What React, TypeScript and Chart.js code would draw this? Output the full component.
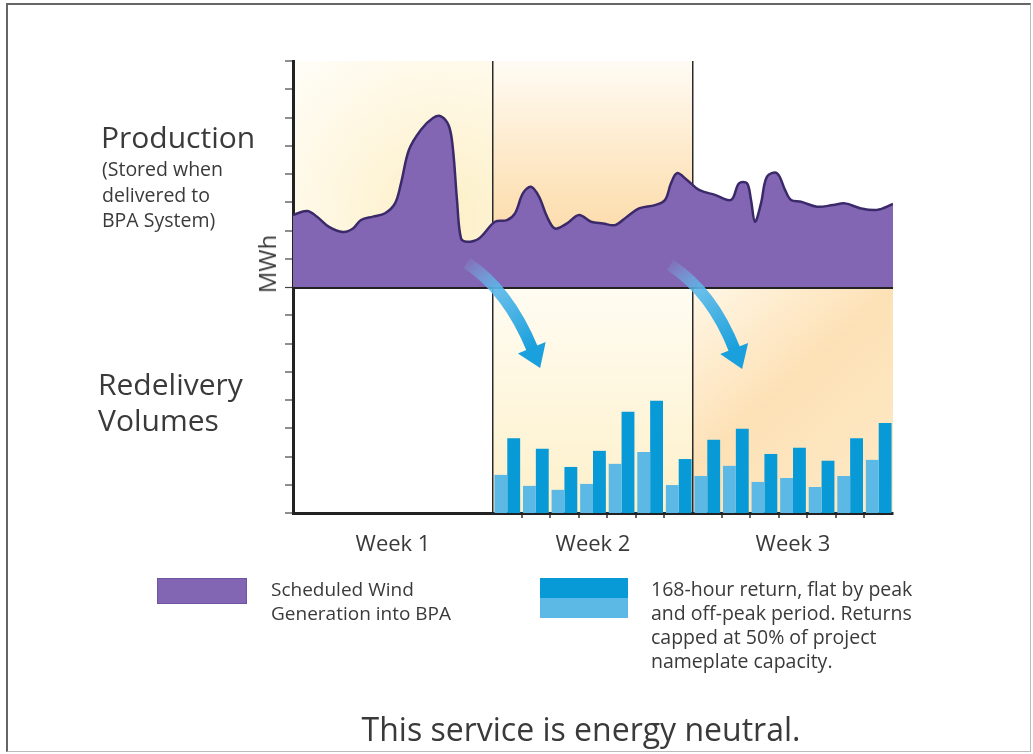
import React, { useEffect, useRef } from "react";
import { Chart, registerables } from "chart.js";

Chart.register(...registerables);

// ---- Data ----
const prodDays = [0, 0.49, 0.84, 1.26, 1.75, 2.1, 2.38, 2.8, 3.22, 3.57, 3.78, 4.06, 4.48, 4.9, 5.18, 5.46, 5.6, 5.74, 5.88, 6.09, 6.51, 7.07, 7.49, 7.77, 8.05, 8.33, 8.61, 8.89, 9.17, 9.59, 10.01, 10.43, 10.85, 11.27, 11.69, 12.11, 12.67, 13.02, 13.23, 13.44, 13.79, 14.21, 14.77, 15.33, 15.61, 15.89, 16.03, 16.17, 16.38, 16.59, 16.94, 17.22, 17.43, 17.78, 18.34, 18.9, 19.32, 19.88, 20.44, 21];
const prodMWh = [10.55, 10.69, 10.49, 10.13, 9.95, 10.07, 10.37, 10.49, 10.61, 10.96, 11.67, 12.86, 13.57, 13.98, 14.04, 13.69, 12.86, 11.08, 9.72, 9.6, 9.72, 10.31, 10.37, 10.61, 11.32, 11.55, 11.2, 10.49, 10.07, 10.25, 10.55, 10.31, 10.25, 10.19, 10.49, 10.78, 10.9, 11.08, 11.67, 12.03, 11.79, 11.44, 11.26, 11.08, 11.67, 11.67, 11.08, 10.31, 10.96, 11.91, 12.03, 11.44, 11.08, 11.02, 10.84, 10.9, 10.96, 10.78, 10.73, 10.94];

const barDays = [7.5, 8.5, 9.5, 10.5, 11.5, 12.5, 13.5, 14.5, 15.5, 16.5, 17.5, 18.5, 19.5, 20.5];
const offPeakReturn = [1.35, 0.96, 0.82, 1.03, 1.74, 2.16, 0.99, 1.31, 1.67, 1.1, 1.24, 0.92, 1.31, 1.88];
const peakReturn = [2.65, 2.27, 1.63, 2.2, 3.58, 3.97, 1.91, 2.59, 2.98, 2.09, 2.31, 1.85, 2.65, 3.19];

const weekLabels = ["Week 1", "Week 2", "Week 3"];
const weekCenters = [3.5, 10.5, 17.5];
const weekBounds = [7, 14];
const dayTicks = [7, 8, 9, 10, 11, 12, 13, 14, 15, 16, 17, 18, 19, 20];

const FONT = '"Open Sans", sans-serif';
const TEXT = "#3a3a3a";

const backgroundPlugin = {
  id: "panelBackgrounds",
  beforeDraw(chart: any) {
    const { ctx, scales } = chart;
    const x = scales.x;
    const y = scales.y;
    const x0 = x.getPixelForValue(0);
    const x7 = x.getPixelForValue(7);
    const x14 = x.getPixelForValue(14);
    const x21 = x.getPixelForValue(21);
    const yTop = y.getPixelForValue(16);
    const yMid = y.getPixelForValue(8);
    const yBot = y.getPixelForValue(0);
    ctx.save();
    let g = ctx.createRadialGradient((x0 + x7) / 2 + 50, yMid - 70, 10, (x0 + x7) / 2 + 50, yMid - 70, 210);
    g.addColorStop(0, "#fdf0c8");
    g.addColorStop(1, "#fffdf7");
    ctx.fillStyle = g;
    ctx.fillRect(x0, yTop, x7 - x0, yMid - yTop);
    g = ctx.createLinearGradient(0, yTop, 0, yMid);
    g.addColorStop(0, "#fffbf4");
    g.addColorStop(0.6, "#fde2b8");
    g.addColorStop(1, "#fbd39e");
    ctx.fillStyle = g;
    ctx.fillRect(x7, yTop, x14 - x7, yMid - yTop);
    g = ctx.createLinearGradient(0, yMid, 0, yBot);
    g.addColorStop(0, "#fffcf2");
    g.addColorStop(1, "#fdf0c9");
    ctx.fillStyle = g;
    ctx.fillRect(x7, yMid, x14 - x7, yBot - yMid);
    g = ctx.createLinearGradient(x14, yMid, x21, yBot);
    g.addColorStop(0, "#fff7e6");
    g.addColorStop(0.45, "#fde1b6");
    g.addColorStop(1, "#fdebc8");
    ctx.fillStyle = g;
    ctx.fillRect(x14, yMid, x21 - x14, yBot - yMid);
    ctx.restore();
  },
};

const arrowDefs = [
  { start: [6.09, 8.85], ctrl: [7.53, 7.89], tip: [8.65, 5.13] },
  { start: [13.2, 8.78], ctrl: [14.67, 7.82], tip: [15.72, 5.1] },
];

const arrowPlugin = {
  id: "transferArrows",
  afterDraw(chart: any) {
    const { ctx, scales } = chart;
    const px = (p: number[]) => [scales.x.getPixelForValue(p[0]), scales.y.getPixelForValue(p[1])];
    ctx.save();
    arrowDefs.forEach((a) => {
      const s = px(a.start);
      const c = px(a.ctrl);
      const t = px(a.tip);
      const dx = t[0] - c[0];
      const dy = t[1] - c[1];
      const len = Math.hypot(dx, dy);
      const ux = dx / len;
      const uy = dy / len;
      const headLen = 22;
      const half = 15;
      const b = [t[0] - ux * headLen, t[1] - uy * headLen];
      const g = ctx.createLinearGradient(s[0], s[1], b[0], b[1]);
      g.addColorStop(0, "rgba(120,190,235,0.15)");
      g.addColorStop(0.35, "rgba(90,185,235,0.9)");
      g.addColorStop(1, "#1aa0dc");
      ctx.strokeStyle = g;
      ctx.lineWidth = 12;
      ctx.lineCap = "butt";
      ctx.beginPath();
      ctx.moveTo(s[0], s[1]);
      ctx.quadraticCurveTo(c[0], c[1], b[0] + ux * 2, b[1] + uy * 2);
      ctx.stroke();
      ctx.fillStyle = "#1aa0dc";
      ctx.beginPath();
      ctx.moveTo(t[0], t[1]);
      ctx.lineTo(b[0] - uy * half, b[1] + ux * half);
      ctx.lineTo(b[0] + uy * half, b[1] - ux * half);
      ctx.closePath();
      ctx.fill();
    });
    ctx.restore();
  },
};

export default function App() {
  const ref = useRef<HTMLCanvasElement>(null);

  useEffect(() => {
    const chart = new Chart(ref.current as HTMLCanvasElement, {
      type: "bar",
      data: {
        datasets: [
          {
            type: "line",
            label: "Scheduled Wind Generation into BPA",
            data: prodDays.map((d, i) => ({ x: d, y: prodMWh[i] })),
            borderColor: "#3b2a6a",
            borderWidth: 2.5,
            backgroundColor: "#8266b4",
            fill: { value: 8 },
            pointRadius: 0,
            tension: 0.35,
            order: 2,
          } as any,
          {
            type: "bar",
            label: "Off-peak return",
            data: barDays.map((d, i) => ({ x: d, y: offPeakReturn[i] })),
            backgroundColor: "#5cb9e6",
            categoryPercentage: 0.9,
            barPercentage: 1.0,
            order: 1,
          },
          {
            type: "bar",
            label: "Peak return",
            data: barDays.map((d, i) => ({ x: d, y: peakReturn[i] })),
            backgroundColor: "#079ad6",
            categoryPercentage: 0.9,
            barPercentage: 1.0,
            order: 1,
          },
        ],
      },
      options: {
        responsive: false,
        animation: false,
        devicePixelRatio: 1,
        layout: { padding: { left: 283, top: 61, right: 140, bottom: 0 } },
        plugins: { legend: { display: false }, tooltip: { enabled: false } },
        scales: {
          x: {
            type: "linear",
            position: "bottom",
            weight: 0,
            min: 0,
            max: 21,
            offset: false,
            z: 1,
            afterFit: (s: any) => {
              s.height = 6;
            },
            afterBuildTicks: (s: any) => {
              s.ticks = dayTicks.map((v) => ({ value: v }));
            },
            ticks: { display: false, autoSkip: false },
            grid: {
              offset: false,
              drawOnChartArea: true,
              drawTicks: true,
              tickLength: 5,
              color: (c: any) => (weekBounds.includes(c.tick?.value) ? "#2a2a2a" : "rgba(0,0,0,0)"),
              lineWidth: (c: any) => (weekBounds.includes(c.tick?.value) ? 1.5 : 0),
              tickColor: (c: any) => (weekBounds.includes(c.tick?.value) ? "rgba(0,0,0,0)" : "#333"),
              tickWidth: 1.5,
            },
            border: { display: true, color: "#222", width: 3 },
          },
          weeks: {
            type: "linear",
            position: "bottom",
            weight: 1,
            min: 0,
            max: 21,
            offset: false,
            afterFit: (s: any) => {
              s.height = 235;
            },
            afterBuildTicks: (s: any) => {
              s.ticks = weekCenters.map((v) => ({ value: v }));
            },
            ticks: {
              autoSkip: false,
              maxRotation: 0,
              padding: 13,
              color: TEXT,
              font: { family: FONT, size: 22 },
              callback: (v: any) => {
                const i = weekCenters.indexOf(Number(v));
                return i >= 0 ? weekLabels[i] : "";
              },
            },
            grid: { display: false, drawTicks: false, drawOnChartArea: false },
            border: { display: false },
          },
          y: {
            type: "linear",
            min: 0,
            max: 16,
            z: 1,
            afterFit: (s: any) => {
              s.width = 10;
            },
            ticks: { stepSize: 1, display: false },
            grid: {
              offset: false,
              drawOnChartArea: true,
              drawTicks: true,
              tickLength: 8,
              color: (c: any) => (c.tick?.value === 8 ? "#222" : "rgba(0,0,0,0)"),
              lineWidth: (c: any) => (c.tick?.value === 8 ? 3 : 0),
              tickColor: "#444",
              tickWidth: 1.2,
            },
            border: { display: true, color: "#222", width: 3 },
          },
        },
      } as any,
      plugins: [backgroundPlugin, arrowPlugin],
    });
    return () => chart.destroy();
  }, []);

  const abs = (extra: React.CSSProperties): React.CSSProperties => ({
    position: "absolute",
    whiteSpace: "nowrap",
    margin: 0,
    ...extra,
  });

  return (
    <div
      style={{
        position: "fixed",
        left: 0,
        top: 0,
        width: 1033,
        height: 754,
        background: "#fff",
        fontFamily: FONT,
        color: TEXT,
        overflow: "hidden",
      }}
    >
      <div
        style={{
          position: "absolute",
          left: 6,
          top: 3,
          width: 1022,
          height: 746,
          borderTop: "2px solid #666",
          borderLeft: "2px solid #666",
          borderRight: "1px solid #bbb",
          borderBottom: "1px solid #bbb",
        }}
      />
      <canvas
        ref={ref}
        width={1033}
        height={754}
        style={{ position: "absolute", left: 0, top: 0, width: 1033, height: 754 }}
      />
      <div style={abs({ left: 101, top: 120, fontSize: 30, lineHeight: "34px" })}>Production</div>
      <div style={abs({ left: 102, top: 156, fontSize: 19.5, lineHeight: "25.5px" })}>
        (Stored when
        <br />
        delivered to
        <br />
        BPA System)
      </div>
      <div style={abs({ left: 98, top: 366, fontSize: 30, lineHeight: "36px" })}>
        Redelivery
        <br />
        Volumes
      </div>
      <div
        style={abs({
          left: 267,
          top: 264,
          fontSize: 24,
          lineHeight: "28px",
          transform: "translate(-50%, -50%) rotate(-90deg)",
        })}
      >
        MWh
      </div>

      <div style={abs({ left: 157, top: 578, width: 90, height: 26, background: "#8266b4", border: "1px solid #6d55a0", boxSizing: "border-box" })} />
      <div style={abs({ left: 271, top: 577, fontSize: 19, lineHeight: "24px" })}>
        Scheduled Wind
        <br />
        Generation into BPA
      </div>
      <div style={abs({ left: 540, top: 578, width: 88, height: 20, background: "#079ad6" })} />
      <div style={abs({ left: 540, top: 598, width: 88, height: 20, background: "#5cb9e6" })} />
      <div style={abs({ left: 651, top: 577, fontSize: 19.5, lineHeight: "24px" })}>
        168-hour return, flat by peak
        <br />
        and off-peak period. Returns
        <br />
        capped at 50% of project
        <br />
        nameplate capacity.
      </div>

      <div
        style={abs({
          left: 581,
          top: 709,
          fontSize: 32,
          lineHeight: "40px",
          transform: "translateX(-50%)",
        })}
      >
        This service is energy neutral.
      </div>
    </div>
  );
}
